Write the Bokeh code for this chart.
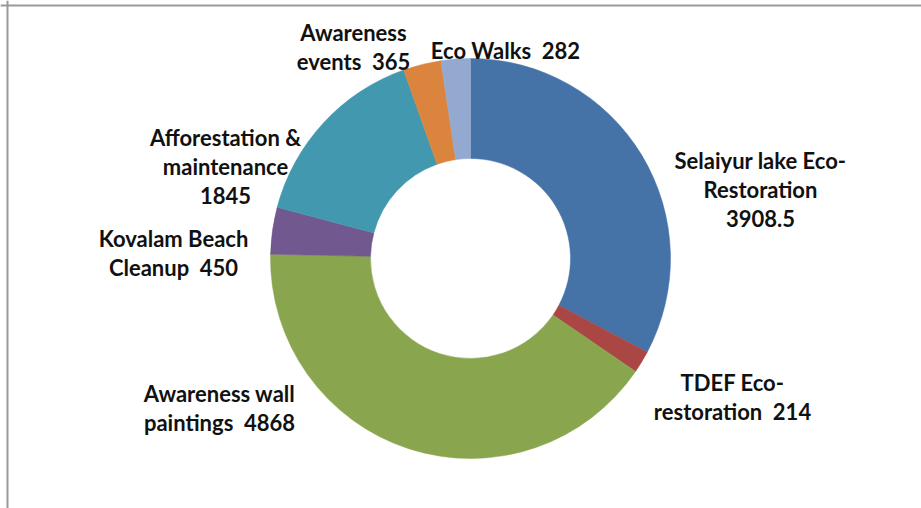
import math
from bokeh.plotting import figure
from bokeh.models import ColumnDataSource, Range1d, Span, GlobalInlineStyleSheet
from bokeh.core.properties import value
from bokeh.embed import file_html
from bokeh.resources import INLINE

# ---- data ----
categories = [
    "Selaiyur lake Eco-Restoration",
    "TDEF Eco-restoration",
    "Awareness wall paintings",
    "Kovalam Beach Cleanup",
    "Afforestation & maintenance",
    "Awareness events",
    "Eco Walks",
]
values = [3908.5, 214, 4868, 450, 1845, 365, 282]
colors = ["#4572A7", "#AA4643", "#89A54E", "#71588F", "#4198AF", "#DB843D", "#93A9CF"]
label_lines = [
    ["Selaiyur lake Eco-", "Restoration", "3908.5"],
    ["TDEF Eco-", "restoration\u00a0 214"],
    ["Awareness wall", "paintings\u00a0 4868"],
    ["Kovalam Beach", "Cleanup\u00a0 450"],
    ["Afforestation &", "maintenance", "1845"],
    ["Awareness", "events\u00a0 365"],
    ["Eco Walks\u00a0 282"],
]
# label anchors (centre x, first-line baseline y) in data units (outer radius = 1)
label_pos = [
    (1.45, 0.49),
    (1.31, -0.62),
    (-1.255, -0.675),
    (-1.485, 0.10),
    (-1.225, 0.605),
    (-0.585, 1.13),
    (0.175, 1.04),
]
LINE_STEP = 0.145

total = sum(values)
starts, ends = [], []
cum = 0.0
for v in values:
    starts.append(math.pi / 2 - 2 * math.pi * cum / total)
    cum += v
    ends.append(math.pi / 2 - 2 * math.pi * cum / total)

src = ColumnDataSource(dict(cat=categories, val=values, start=starts, end=ends, color=colors))

W, H = 921, 508
p = figure(width=W, height=H, output_backend="svg", toolbar_location=None,
           x_range=Range1d(-2.35, 2.255), y_range=Range1d(-1.25, 1.29),
           min_border=0, tools="")
p.stylesheets = [GlobalInlineStyleSheet(css="html, body { margin: 0 !important; padding: 0; overflow: hidden; }")]
p.axis.visible = False
p.grid.visible = False
p.outline_line_color = None
p.background_fill_color = "white"
p.border_fill_color = "white"

p.annular_wedge(x=0, y=0, inner_radius=0.5, outer_radius=1.0,
                start_angle="start", end_angle="end", direction="clock",
                fill_color="color", line_color="color", line_width=0.5, source=src)

tx, ty, tt = [], [], []
for lines, (x0, y0) in zip(label_lines, label_pos):
    for i, ln in enumerate(lines):
        tx.append(x0)
        ty.append(y0 - i * LINE_STEP)
        tt.append(ln)
lsrc = ColumnDataSource(dict(x=tx, y=ty, t=tt))
p.text(x="x", y="y", text="t", source=lsrc, text_align="center",
       text_baseline="alphabetic", text_font=value("Lato"), text_font_style="bold",
       text_font_size="22px", text_color="#111111")

p.add_layout(Span(location=-2.315, dimension="height", line_color="#999999", line_width=2))
p.add_layout(Span(location=1.265, dimension="width", line_color="#999999", line_width=2))

open("out.html", "w").write(file_html(p, INLINE))
